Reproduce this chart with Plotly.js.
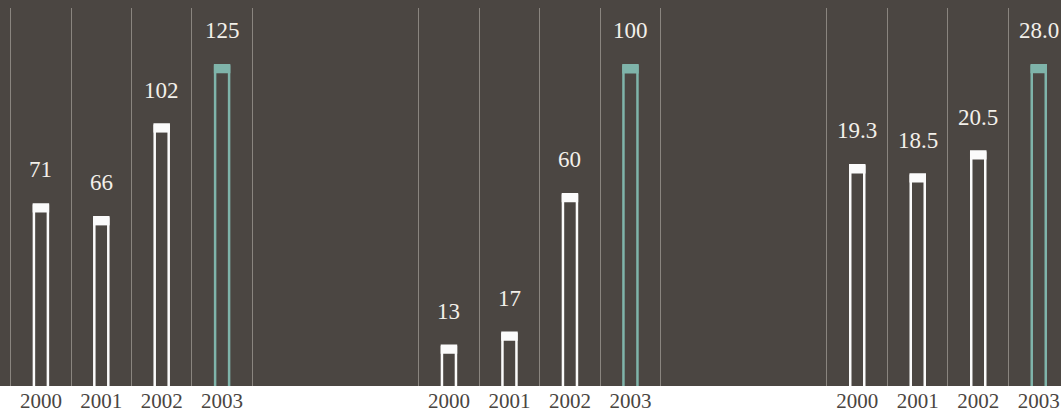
<!DOCTYPE html>
<html>
<head>
<meta charset="utf-8">
<script src="https://cdn.plot.ly/plotly-3.0.1.min.js"></script>
<style>html,body{margin:0;padding:0;background:#fff;}#chart{width:1061px;height:414px;}</style>
</head>
<body>
<div id="chart"></div>
<script>
// ---- data ----
var years = ['2000', '2001', '2002', '2003'];
var groupA = [71, 66, 102, 125];
var groupB = [13, 17, 60, 100];
var groupC = [19.3, 18.5, 20.5, 28.0];
var labelsA = ['71', '66', '102', '125'];
var labelsB = ['13', '17', '60', '100'];
var labelsC = ['19.3', '18.5', '20.5', '28.0'];

// ---- style ----
var W = 1061, H = 414, T = 8, B = 28;
var plotH = H - T - B;
var BG = '#4b4642';
var GRID = '#8a857f';
var WHITE = '#fbfbfb';
var TEAL = '#7fb4aa';
var barColors = [WHITE, WHITE, WHITE, TEAL];
var colW = 60.45;
var pad = 0.03;            // range padding (category units) so edge gridlines are drawn
var padPx = pad * colW;
var barW = 14 / colW;
var capW = 16.5 / colW;
var capPx = 8;
var fontFam = '"Liberation Serif", "DejaVu Serif", serif';

var groups = [
  {vals: groupA, labels: labelsA, x: 'x', y: 'y', top: 147.2, dom: [(10.7 - padPx) / W, (252.3 + padPx) / W], xr: [-0.5 - pad, 3.5 + pad]},
  {vals: groupB, labels: labelsB, x: 'x2', y: 'y2', top: 117.8, dom: [(418.7 - padPx) / W, (660.7 + padPx) / W], xr: [-0.5 - pad, 3.5 + pad]},
  {vals: groupC, labels: labelsC, x: 'x3', y: 'y3', top: 32.97, dom: [(827 - padPx) / W, 1], xr: [-0.5 - pad, 3.368]}
];

var traces = [];
var annotations = [];
var layout = {
  width: W, height: H,
  margin: {l: 0, r: 0, t: T, b: B, pad: 0},
  paper_bgcolor: '#ffffff',
  plot_bgcolor: 'rgba(0,0,0,0)',
  barmode: 'overlay',
  showlegend: false,
  shapes: [{type: 'rect', xref: 'paper', yref: 'paper', x0: 0, x1: 1, y0: 0, y1: 1 + T / plotH + 0.01,
            fillcolor: BG, line: {width: 0}, layer: 'below'}],
  annotations: annotations
};

groups.forEach(function (g, i) {
  var capData = g.top * capPx / plotH;
  traces.push({
    type: 'bar', x: years, y: g.vals, xaxis: g.x, yaxis: g.y, width: barW,
    marker: {color: BG, line: {color: barColors, width: 2.5}},
    hoverinfo: 'skip'
  });
  traces.push({
    type: 'bar', x: years, y: g.vals.map(function () { return -capData; }), base: g.vals,
    xaxis: g.x, yaxis: g.y, width: capW,
    marker: {color: barColors, line: {width: 0}},
    hoverinfo: 'skip'
  });
  g.vals.forEach(function (v, k) {
    annotations.push({
      x: k, y: v, xref: g.x, yref: g.y, text: g.labels[k], showarrow: false,
      yanchor: 'bottom', xanchor: 'center', yshift: 20,
      font: {family: fontFam, size: 23, color: '#f3f0ea'}
    });
  });
  var suffix = i === 0 ? '' : String(i + 1);
  layout['xaxis' + suffix] = {
    domain: g.dom, range: g.xr, type: 'category', tickson: 'boundaries',
    showgrid: true, gridcolor: GRID, gridwidth: 1, zeroline: false, showline: false,
    ticks: '', tickfont: {family: fontFam, size: 21, color: '#4a4541'},
    anchor: g.y, fixedrange: true
  };
  layout['yaxis' + suffix] = {
    range: [g.top * 0.004, g.top], showticklabels: false, ticks: '', showgrid: false, zeroline: false,
    showline: false, anchor: g.x, fixedrange: true
  };
});

Plotly.newPlot('chart', traces, layout, {displayModeBar: false, staticPlot: true});
</script>
</body>
</html>
